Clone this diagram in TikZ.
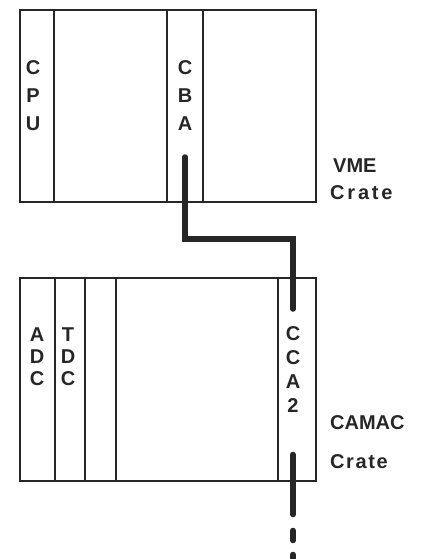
\documentclass[tikz,border=0pt]{standalone}
\usepackage{fontspec}
\setmainfont{Liberation Sans}
\usetikzlibrary{positioning, calc}

\begin{document}
\begin{tikzpicture}[x=1pt, y=-1pt,
  crate/.style={draw=black!85, rectangle, line width=2.7pt, inner sep=0pt, outer sep=0pt},
  slot/.style={draw=black!85, rectangle, line width=2.7pt, inner sep=0pt, outer sep=0pt},
  slotlabel/.style={align=center, inner sep=0pt, text=black!85, font=\bfseries\fontsize{20}{#1}\selectfont},
  slotlabel/.default=28,
  cratelabel/.style={anchor=west, inner sep=0pt, text=black!85, font=\bfseries\fontsize{20}{23}\selectfont},
  cable/.style={draw=black!85, line width=5.5pt, line cap=round}]

  \useasboundingbox (0,0) rectangle (427,559);

  % VME crate (top) with the CPU and CBA modules
  \node[crate, minimum width=296pt, minimum height=192pt] (vme) at (168,106) {};
  \node[slot, minimum width=34pt, minimum height=192pt] (cpu) at (37,106) {};
  \node[slot, minimum width=36pt, minimum height=192pt] (cba) at (185,106) {};
  \node[slotlabel] (cpuL) at (33,96) {C\\P\\U};
  \node[slotlabel] (cbaL) at (185,96) {C\\B\\A};
  \node[cratelabel] (vmeL) at (333,166) {VME};
  \node[cratelabel] (vmeC) at (330,193) {\addfontfeatures{LetterSpace=14}Crate};

  % CAMAC crate (bottom) with ADC, TDC, a spare slot and the CCA2 controller
  \node[crate, minimum width=296pt, minimum height=203pt] (camac) at (168,379.5) {};
  \node[slot, minimum width=35pt, minimum height=203pt] (adc) at (37.5,379.5) {};
  \node[slot, minimum width=30pt, minimum height=203pt] (tdc) at (70,379.5) {};
  \node[slot, minimum width=31pt, minimum height=203pt] (spare) at (100.5,379.5) {};
  \node[slot, minimum width=38pt, minimum height=203pt] (cca) at (297,379.5) {};
  \node[slotlabel=22] (adcL) at (37,357) {A\\D\\C};
  \node[slotlabel=22] (tdcL) at (68,357) {T\\D\\C};
  \node[slotlabel=24] (ccaL) at (293,370) {C\\C\\A\\2};
  \node[cratelabel] (camacL) at (330,423) {CAMAC};
  \node[cratelabel] (camacC) at (330,462) {\addfontfeatures{LetterSpace=8}Crate};

  % cable from the CBA down into the CCA2
  \coordinate (cbaPlug) at (185,157);
  \coordinate (ccaPlug) at (293,309);
  \draw[cable] (cbaPlug) -- ++(0,82) -| (ccaPlug);

  % cable leaving the CCA2, running on (dashed)
  \coordinate (ccaOut) at (293,454.5);
  \coordinate (cableEnd) at (293,559);
  \draw[cable, dash pattern=on 60pt off 16pt on 10pt off 14pt on 10pt off 14pt] (ccaOut) -- (cableEnd);

\end{tikzpicture}
\end{document}
